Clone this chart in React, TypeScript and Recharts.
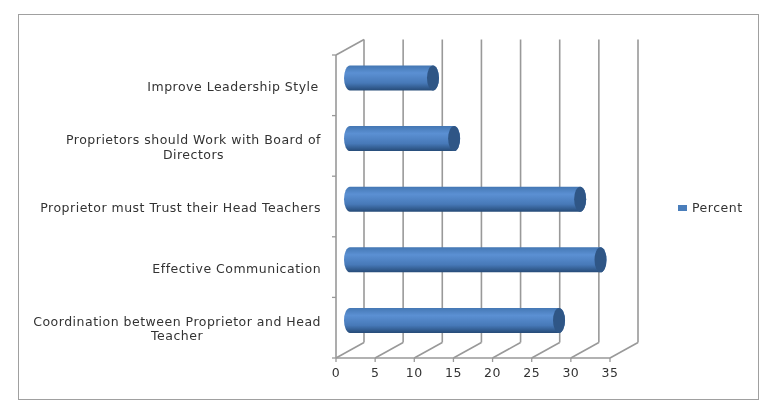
import { BarChart, Bar, XAxis, YAxis, CartesianGrid, Legend } from 'recharts';

const categories = [
  'Improve Leadership Style ',
  'Proprietors should Work with Board of Directors',
  'Proprietor must Trust their Head Teachers',
  'Effective Communication',
  'Coordination between Proprietor and Head Teacher',
];
const percent = [10.6, 13.3, 29.4, 32, 26.7];
const xTicks = [0, 5, 10, 15, 20, 25, 30, 35];
const seriesName = 'Percent';

const data = categories.map((name, i) => ({ name, percent: percent[i] }));

const FONT = '"DejaVu Sans", sans-serif';
const FONT_SIZE = 12.5;
const SPACING = 0.5;
const GRID = '#999999';
const TEXT = '#333333';
const DEPTH_X = 28;
const DEPTH_Y = -15.5;
const BAND = 60.6;

const canvas = document.createElement('canvas').getContext('2d');
function measure(s: string) {
  canvas.font = `${FONT_SIZE}px ${FONT}`;
  return canvas.measureText(s).width + s.length * SPACING;
}

function wrap(text: string) {
  const lines: string[] = [];
  let cur = '';
  text.split(' ').forEach((w) => {
    const next = cur ? cur + ' ' + w : w;
    if (measure(next) > 300) {
      lines.push(cur);
      cur = w;
    } else cur = next;
  });
  lines.push(cur);
  return lines;
}

function WallLine(props: any) {
  const { x1, y1, y2, index } = props;
  return (
    <g stroke={GRID} strokeWidth={1.6} fill="none">
      <line x1={x1 + DEPTH_X} y1={y1 + DEPTH_Y} x2={x1 + DEPTH_X} y2={y2 + DEPTH_Y} />
      <line x1={x1} y1={y2} x2={x1 + DEPTH_X} y2={y2 + DEPTH_Y} />
      {index === 0 && <line x1={x1} y1={y1} x2={x1 + DEPTH_X} y2={y1 + DEPTH_Y} />}
    </g>
  );
}

function CategoryTick(props: any) {
  const { x, y, payload, index } = props;
  const lines = wrap(payload.value);
  const first = measure(lines[0]);
  const right = x - 15;
  return (
    <g>
      <line x1={x - 4} x2={x} y1={y - BAND / 2} y2={y - BAND / 2} stroke={GRID} strokeWidth={1.3} />
      {index === categories.length - 1 && (
        <line x1={x - 4} x2={x} y1={y + BAND / 2} y2={y + BAND / 2} stroke={GRID} strokeWidth={1.3} />
      )}
      <text fontFamily={FONT} fontSize={FONT_SIZE} letterSpacing={SPACING} fill={TEXT} textAnchor="middle">
        {lines.map((l, i) => (
          <tspan key={l} x={right - first / 2} y={y + (lines.length > 1 ? -1.6 : 5.5) + i * 14.2}>
            {l}
          </tspan>
        ))}
      </text>
    </g>
  );
}

function Cylinder(props: any) {
  const { x, y, width, height, index } = props;
  const rx = 6;
  const ry = height / 2;
  const left = x + 14;
  const top = y - 7.5;
  const right = left + width;
  const id = `cyl-${index}`;
  return (
    <g>
      <defs>
        <linearGradient id={id} x1="0" y1="0" x2="0" y2="1">
          <stop offset="0" stopColor="#4477b3" />
          <stop offset="0.3" stopColor="#5b90d3" />
          <stop offset="0.7" stopColor="#4779b8" />
          <stop offset="1" stopColor="#264b78" />
        </linearGradient>
      </defs>
      <path
        d={`M${left},${top} L${right},${top} A${rx},${ry} 0 0 1 ${right},${top + height} L${left},${top + height} A${rx},${ry} 0 0 1 ${left},${top} Z`}
        fill={`url(#${id})`}
      />
      <ellipse cx={right} cy={top + ry} rx={rx} ry={ry} fill="#2f5686" />
    </g>
  );
}

function LegendBox({ payload }: any) {
  return (
    <div>
      {(payload || []).map((p: any) => (
        <div
          key={p.value}
          style={{ display: 'flex', alignItems: 'center', fontFamily: FONT, fontSize: FONT_SIZE, letterSpacing: SPACING, color: TEXT }}
        >
          <span style={{ width: 9, height: 6, background: '#4a7ebb', marginRight: 5 }} />
          {p.value}
        </div>
      ))}
    </div>
  );
}

export default function App() {
  return (
    <div style={{ position: 'absolute', left: 0, top: 0, width: 771, height: 407, background: '#fff', filter: 'blur(0.35px)' }}>
      <div style={{ position: 'absolute', left: 18, top: 14, width: 739, height: 384, border: '1.5px solid #a0a0a0' }} />
      <BarChart
        layout="vertical"
        width={771}
        height={407}
        data={data}
        margin={{ top: 55, right: 81, bottom: 19, left: 0 }}
        barSize={25}
      >
        <CartesianGrid horizontal={false} vertical={(p: any) => <WallLine key={p.index} {...p} />} />
        <XAxis
          type="number"
          domain={[0, 35]}
          ticks={xTicks}
          height={30}
          interval={0}
          tick={{ fontFamily: FONT, fontSize: FONT_SIZE, letterSpacing: SPACING, fill: TEXT }}
          axisLine={{ stroke: GRID, strokeWidth: 1.6 }}
          tickLine={{ stroke: GRID, strokeWidth: 1.3 }}
          tickSize={4}
          tickMargin={6}
        />
        <YAxis
          type="category"
          dataKey="name"
          width={336}
          interval={0}
          tick={<CategoryTick />}
          tickLine={false}
          tickSize={0}
          tickMargin={0}
          axisLine={{ stroke: GRID, strokeWidth: 1.6 }}
        />
        <Legend
          layout="vertical"
          align="right"
          verticalAlign="top"
          content={<LegendBox />}
          wrapperStyle={{ left: 678, top: 200, width: 80 }}
        />
        <Bar dataKey="percent" name={seriesName} fill="#4a7ebb" shape={<Cylinder />} isAnimationActive={false} />
      </BarChart>
    </div>
  );
}
